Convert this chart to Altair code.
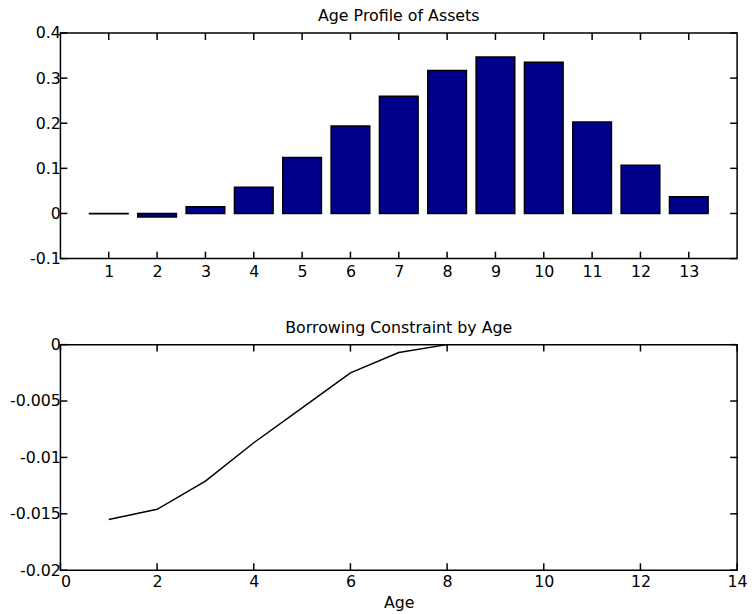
import altair as alt
import pandas as pd

# ---- data ----
ages = [1, 2, 3, 4, 5, 6, 7, 8, 9, 10, 11, 12, 13]
assets = [-0.0005, -0.008, 0.015, 0.058, 0.124, 0.194, 0.260, 0.317, 0.347, 0.335, 0.203, 0.107, 0.037]

bc_ages = [1, 2, 3, 4, 5, 6, 7, 8]
borrow = [-0.0155, -0.0146, -0.0121, -0.0087, -0.0056, -0.0025, -0.0007, 0.0]

top_xticks = [1, 2, 3, 4, 5, 6, 7, 8, 9, 10, 11, 12, 13]
top_yticks = [-0.1, 0.0, 0.1, 0.2, 0.3, 0.4]
bot_xticks = [0, 2, 4, 6, 8, 10, 12, 14]
bot_yticks = [-0.02, -0.015, -0.01, -0.005, 0.0]

W, H = 684, 228
TL = 7  # inward tick length
FONT = "DejaVu Sans"
FS = 16
LBL = "'' + datum.value"

df_assets = pd.DataFrame({"age": ages, "assets": assets})
df_bc = pd.DataFrame({"age": bc_ages, "borrow": borrow})


def tick_layers(xticks, yticks, xscale, yscale):
    dx = pd.DataFrame({"t": xticks})
    dy = pd.DataFrame({"t": yticks})
    base_x = alt.Chart(dx).mark_rule(color="black", strokeWidth=1.5)
    base_y = alt.Chart(dy).mark_rule(color="black", strokeWidth=1.5)
    xt = alt.X("t:Q", scale=xscale)
    yt = alt.Y("t:Q", scale=yscale)
    return [
        base_x.encode(x=xt, y=alt.value(H), y2=alt.value(H - TL)),
        base_x.encode(x=xt, y=alt.value(0), y2=alt.value(TL)),
        base_y.encode(y=yt, x=alt.value(0), x2=alt.value(TL)),
        base_y.encode(y=yt, x=alt.value(W), x2=alt.value(W - TL)),
    ]


# ---- top panel ----
xs1 = alt.Scale(domain=[0, 14], nice=False, zero=False)
ys1 = alt.Scale(domain=[-0.1, 0.4], nice=False)

bars = (
    alt.Chart(df_assets)
    .transform_calculate(x0="datum.age - 0.4", x1="datum.age + 0.4")
    .mark_bar(fill="#00008C", stroke="black", strokeWidth=1.5)
    .encode(
        x=alt.X("x0:Q", scale=xs1,
                axis=alt.Axis(values=top_xticks, title="", labelExpr=LBL, labelPadding=5)),
        x2="x1:Q",
        y=alt.Y("assets:Q", scale=ys1,
                axis=alt.Axis(values=top_yticks, title="", labelExpr=LBL, labelPadding=0)),
        y2=alt.datum(0),
    )
)

top = alt.layer(bars, *tick_layers(top_xticks, top_yticks, xs1, ys1)).properties(
    width=W, height=H,
    title=alt.Title("Age Profile of Assets", offset=1),
)

# ---- bottom panel ----
xs2 = alt.Scale(domain=[0, 14], nice=False, zero=False)
ys2 = alt.Scale(domain=[-0.02, 0], nice=False)

line = (
    alt.Chart(df_bc)
    .mark_line(color="black", strokeWidth=1.5)
    .encode(
        x=alt.X("age:Q", scale=xs2,
                axis=alt.Axis(values=bot_xticks, title="Age", labelExpr=LBL,
                              labelPadding=3, titlePadding=6,
                              labelAlign={"condition": {"test": "datum.value == 0", "value": "left"},
                                          "value": "center"})),
        y=alt.Y("borrow:Q", scale=ys2,
                axis=alt.Axis(values=bot_yticks, title="", labelExpr=LBL, labelPadding=0)),
    )
)

bottom = alt.layer(line, *tick_layers(bot_xticks, bot_yticks, xs2, ys2)).properties(
    width=W, height=H,
    title=alt.Title("Borrowing Constraint by Age", offset=1),
)

chart = (
    alt.vconcat(top, bottom, spacing=39)
    .properties(padding={"left": 0, "top": -4, "right": 0, "bottom": 0})
    .configure_view(stroke="black", strokeWidth=1.5, fill="white")
    .configure_axis(
        domain=False, ticks=False, grid=False,
        labelFont=FONT, labelFontSize=FS, labelColor="black",
        titleFont=FONT, titleFontSize=FS, titleColor="black", titleFontWeight="normal",
        labelFlush=False, labelOverlap=False,
    )
    .configure_axisY(minExtent=52, maxExtent=52)
    .configure_title(font=FONT, fontSize=FS, fontWeight="normal", color="black", anchor="middle")
)

chart.save("out.html", embed_options={"renderer": "svg", "actions": False})
